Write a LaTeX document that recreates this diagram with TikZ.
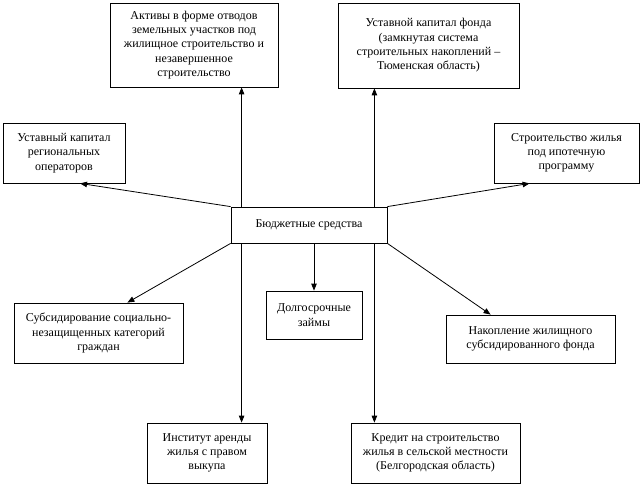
\documentclass[tikz,border=0pt]{standalone}
\usepackage{fontspec}
\setmainfont{Liberation Serif}
\usetikzlibrary{arrows.meta}

\begin{document}
\begin{tikzpicture}
[x=1pt,y=-1pt,
  boxDecorate/.style={shape=rectangle,draw,line width=0.8pt,align=center,inner sep=2pt,
    font=\fontsize{12}{14.3}\selectfont},
  arrowDecorate/.style={-{Triangle[length=7pt,width=5.5pt]},line width=0.8pt}]
\useasboundingbox (0,0) rectangle (642,486);
%% blocks
\foreach \nodename/\x/\y/\w/\h/\content in {
  akt/194/45/168/84/{Активы в форме отводов\\земельных участков под\\жилищное строительство и\\незавершенное\\строительство},
  ust/64/153/122/60/{Уставный капитал\\региональных\\операторов},
  bud/309/225/156/36/{Бюджетные средства},
  fond/428.5/45.5/181/85/{Уставной капитал фонда\\(замкнутая система\\строительных накоплений –\\Тюменская область)},
  ipot/566.5/153/145/60/{Строительство жилья\\под ипотечную\\программу},
  subs/98.5/333/169/60/{Субсидирование социально-\\незащищенных категорий\\граждан},
  zaim/314/315/96/48/{Долгосрочные\\займы},
  arend/207/453/120/60/{Институт аренды\\жилья с правом\\выкупа},
  nakop/530.5/339/169/48/{Накопление жилищного\\субсидированного фонда},
  kred/435.5/453/169/60/{Кредит на строительство\\жилья в сельской местности\\(Белгородская область)}}
{
  \node (\nodename) at (\x,\y) [boxDecorate,minimum width=\w pt,minimum height=\h pt] {\content};
}
%% arrows
\coordinate (upL) at ([xshift=11pt]bud.north west);
\coordinate (upR) at ([xshift=-13pt]bud.north east);
\coordinate (dnL) at ([xshift=11pt]bud.south west);
\coordinate (dnR) at ([xshift=-13pt]bud.south east);
\coordinate (ustIn) at ([xshift=16pt]ust.south);
\coordinate (ipotIn) at ([xshift=36pt]ipot.south west);
\coordinate (subsIn) at ([xshift=-56pt]subs.north east);
\coordinate (nakopIn) at ([xshift=45pt]nakop.north west);
\path
\foreach \startnode/\endnode in {
  upL/{upL |- akt.south}, upR/{upR |- fond.south},
  bud.north west/ustIn, bud.north east/ipotIn,
  bud.south west/subsIn, dnL/{dnL |- arend.north},
  {bud.south -| zaim.north}/zaim.north, dnR/{dnR |- kred.north},
  bud.south east/nakopIn}
{
  (\startnode) edge[arrowDecorate] (\endnode)
};
\end{tikzpicture}
\end{document}
